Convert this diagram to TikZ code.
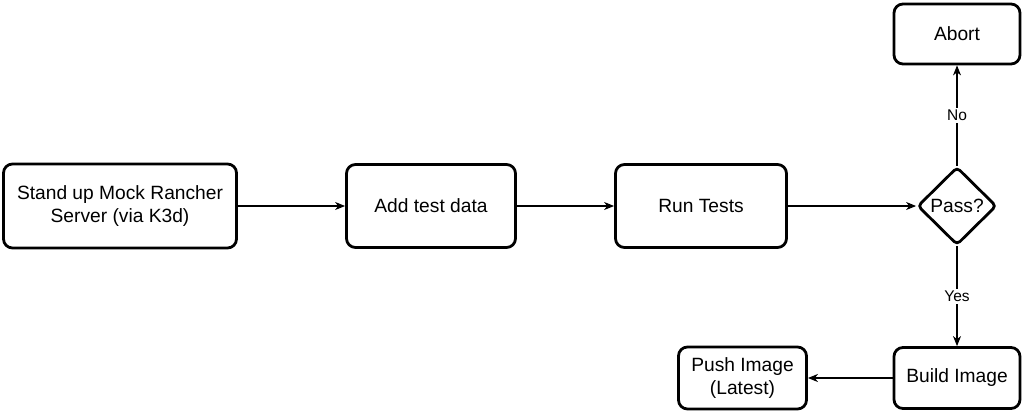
\documentclass[tikz,border=0pt]{standalone}
\usepackage{fontspec}
\setmainfont{Liberation Sans}
\usetikzlibrary{shapes.geometric,arrows.meta}
\begin{document}
\begin{tikzpicture}[x=1pt,y=-1pt,
  box/.style={draw=black,line width=2.8pt,rounded corners=9pt,fill=white,align=center,inner sep=0pt,
    font=\fontsize{19.2}{22.5}\selectfont},
  conn/.style={draw=black,line width=1.1pt,-{Stealth[length=10pt,width=8pt,inset=3pt]}},
  elabel/.style={fill=white,inner sep=2pt,font=\fontsize{15.5}{18}\selectfont}]
\useasboundingbox (0,0) rectangle (1024,412);
\node[box,minimum width=233pt,minimum height=84pt] (s1) at (120,206) {Stand up Mock Rancher\\Server (via K3d)};
\node[box,minimum width=169pt,minimum height=83pt] (s2) at (431,206) {Add test data};
\node[box,minimum width=171pt,minimum height=83pt] (s3) at (701,206) {Run Tests};
\node[draw=black,line width=2.8pt,rounded corners=4pt,shape=diamond,minimum width=79pt,minimum height=78pt,inner sep=0pt] (pass) at (957,206) {};
\node[font=\fontsize{19.2}{22.5}\selectfont] (passtext) at (pass.center) {Pass?};
\node[box,minimum width=126pt,minimum height=60pt] (abort) at (957,34) {Abort};
\node[box,minimum width=126pt,minimum height=61pt] (build) at (957,378) {Build Image};
\node[box,minimum width=128pt,minimum height=62pt] (push) at (742.5,378) {Push Image\\(Latest)};
\draw[conn] (s1.east) -- (s2.west);
\draw[conn] (s2.east) -- (s3.west);
\draw[conn] (s3.east) -- (pass.west);
\draw[conn] (pass.north) -- node[elabel] {No} (abort.south);
\draw[conn] (pass.south) -- node[elabel] {Yes} (build.north);
\draw[conn] (build.west) -- (push.east);
\end{tikzpicture}
\end{document}
